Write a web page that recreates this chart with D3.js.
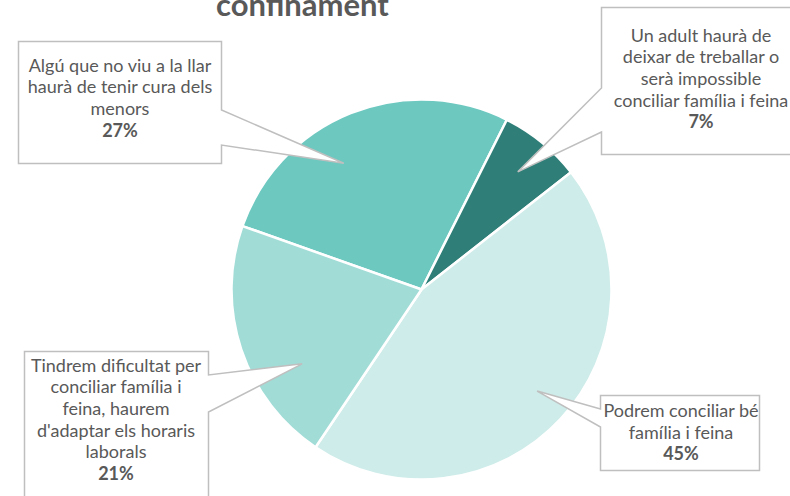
<!DOCTYPE html>
<html>
<head>
<meta charset="utf-8">
<script src="https://cdn.jsdelivr.net/npm/d3@7"></script>
<style>
  html, body { margin: 0; padding: 0; background: #fff; }
  svg { display: block; }
  text { font-family: Lato, "Open Sans", sans-serif; fill: #595959; }
</style>
</head>
<body>
<svg id="chart" width="790" height="496"></svg>
<script>
// ---- data ----
const titleText = "confinament";
const categories = [
  "Algú que no viu a la llar haurà de tenir cura dels menors",
  "Un adult haurà de deixar de treballar o serà impossible conciliar família i feina",
  "Podrem conciliar bé família i feina",
  "Tindrem dificultat per conciliar família i feina, haurem d'adaptar els horaris laborals"
];
const values = [27, 7, 45, 21];
const labelLines = [
  ["Algú que no viu a la llar", "haurà de tenir cura dels", "menors"],
  ["Un adult haurà de", "deixar de treballar o", "serà impossible", "conciliar família i feina"],
  ["Podrem conciliar bé", "família i feina"],
  ["Tindrem dificultat per", "conciliar família i", "feina, haurem", "d'adaptar els horaris", "laborals"]
];

// ---- styles / layout ----
const colors = ["#6DC8C0", "#2F7F78", "#CEECE9", "#A1DCD7"];
const cx = 421.5, cy = 289.5, R = 190;
const startDeg = -70.5;
// callout boxes: x0,x1,y0,y1, pointer side, base y range, tip fraction along slice & radius factor, text center & first baseline
const callouts = [
  {x0: 18.5, x1: 221.5, y0: 41.5, y1: 163.5, side: "right", b0: 110, b1: 145, frac: 0.40, rf: 0.78, tx: 120, ty: 71.5},
  {x0: 601.5, x1: 805, y0: 7.5, y1: 154.5, side: "left", b0: 88, b1: 132, frac: 0.50, rf: 0.80, tx: 701, ty: 41.5},
  {x0: 600.5, x1: 759.5, y0: 395.5, y1: 470.5, side: "left", b0: 409, b1: 427, frac: 0.49, rf: 0.81, tx: 681, ty: 417},
  {x0: 24.5, x1: 208.5, y0: 351.5, y1: 520, side: "right", b0: 375, b1: 412, frac: 0.32, rf: 0.74, tx: 116, ty: 371.5}
];
const lineH = 21.7;

const svg = d3.select("#chart");

// title (its upper part falls above the frame, as in the reference)
svg.append("text")
  .attr("x", 302.5).attr("y", 16)
  .attr("text-anchor", "middle")
  .style("font-size", "31px").style("font-weight", "bold")
  .text(titleText);

const pie = d3.pie().sort(null).value(d => d)
  .startAngle(startDeg * Math.PI / 180)
  .endAngle((startDeg + 360) * Math.PI / 180);
const arcs = pie(values);
const arc = d3.arc().innerRadius(0).outerRadius(R);

const g = svg.append("g").attr("transform", `translate(${cx},${cy})`);
g.selectAll("path.slice").data(arcs).join("path")
  .attr("class", "slice")
  .attr("d", arc)
  .attr("fill", (d, i) => colors[i])
  .attr("stroke", "#fff")
  .attr("stroke-width", 2.5)
  .attr("stroke-linejoin", "round");

// callouts
arcs.forEach((a, i) => {
  const c = callouts[i];
  const ang = a.startAngle + c.frac * (a.endAngle - a.startAngle);
  const tr = c.rf * R;
  const tipX = cx + tr * Math.sin(ang);
  const tipY = cy - tr * Math.cos(ang);
  let pts;
  if (c.side === "right") {
    pts = [[c.x0, c.y0], [c.x1, c.y0], [c.x1, c.b0], [tipX, tipY], [c.x1, c.b1], [c.x1, c.y1], [c.x0, c.y1]];
  } else {
    pts = [[c.x0, c.y0], [c.x1, c.y0], [c.x1, c.y1], [c.x0, c.y1], [c.x0, c.b1], [tipX, tipY], [c.x0, c.b0]];
  }
  svg.append("path")
    .attr("d", d3.line()(pts) + "Z")
    .attr("fill", "#fff")
    .attr("stroke", "#BFBFBF")
    .attr("stroke-width", 1.5)
    .attr("stroke-linejoin", "miter");
  const t = svg.append("text").attr("text-anchor", "middle").style("font-size", "18px");
  const lines = labelLines[i];
  lines.forEach((ln, k) => {
    t.append("tspan").attr("x", c.tx).attr("y", c.ty + k * lineH).text(ln);
  });
  t.append("tspan").attr("x", c.tx).attr("y", c.ty + lines.length * lineH)
    .style("font-weight", "bold").text(values[i] + "%");
});
</script>
</body>
</html>
